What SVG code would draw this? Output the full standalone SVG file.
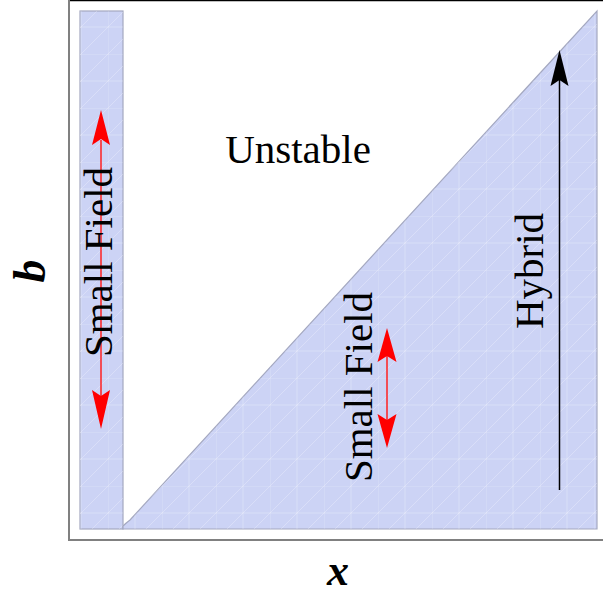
<svg xmlns="http://www.w3.org/2000/svg" width="603" height="594" viewBox="0 0 603 594">
<style>
.lbl{font-family:"Liberation Serif","Times New Roman",serif;font-size:41px;fill:#000}
.ax{font-family:"Liberation Serif","Times New Roman",serif;font-size:46px;font-weight:bold;font-style:italic;fill:#000}
.region{fill:#ccd3f5;stroke:#a4a8c0;stroke-width:1.2}
.red{stroke:#ff2020;stroke-width:1.5;fill:none}
.redhead{fill:#ff0000}
</style>
<defs>
<pattern id="tex" width="54" height="54" patternUnits="userSpaceOnUse">
<path d="M0 54 L54 0 M0 27 L27 0 M27 54 L54 27 M0 0 H54 M0 0 V54 M27 0 V54 M0 27 H54" stroke="#ffffff" stroke-opacity="0.25" stroke-width="1" fill="none"/>
</pattern>
</defs>
<g id="frame">
<rect x="0" y="0" width="603" height="594" fill="#ffffff"/>
<line x1="68" y1="0.5" x2="603" y2="0.5" stroke="#000" stroke-width="1.5"/>
<line x1="69" y1="0" x2="69" y2="541" stroke="#808080" stroke-width="2"/>
<line x1="68" y1="540" x2="603" y2="540" stroke="#808080" stroke-width="2"/>
</g>
<g id="regions">
<rect class="region" x="80" y="11" width="43" height="518"/>
<rect x="80" y="11" width="43" height="518" fill="url(#tex)"/>
<path class="region" d="M123 529 L123 526 Q126 523 130 520 L597 11 L597 529 Z"/>
<path d="M123 529 L123 526 Q126 523 130 520 L597 11 L597 529 Z" fill="url(#tex)"/>
</g>
<g id="connectors">
<line class="red" x1="101" y1="140" x2="101" y2="400"/>
<polygon class="redhead" points="101,110 92,145 101,139 110,145"/>
<polygon class="redhead" points="101,429 92,390 101,396 110,390"/>
<line class="red" x1="387" y1="355" x2="387" y2="420"/>
<polygon class="redhead" points="387,328 377.5,362 387,356 396.5,362"/>
<polygon class="redhead" points="387,448 377.5,414 387,420 396.5,414"/>
<line x1="559.5" y1="80" x2="559.5" y2="490" stroke="#000" stroke-width="1.5"/>
<polygon points="559.5,50 550.5,86 559.5,80 568.5,86" fill="#000"/>
</g>
<g id="unstable"><text class="lbl" x="298" y="163" text-anchor="middle">Unstable</text></g>
<g id="small-field-left"><text class="lbl" transform="translate(112,262) rotate(-90)" text-anchor="middle">Small Field</text></g>
<g id="small-field-mid"><text class="lbl" transform="translate(372,387) rotate(-90)" text-anchor="middle">Small Field</text></g>
<g id="hybrid"><text class="lbl" transform="translate(543,271) rotate(-90)" text-anchor="middle">Hybrid</text></g>
<g id="axis-b"><text class="ax" transform="translate(45,271) rotate(-90)" text-anchor="middle">b</text></g>
<g id="axis-x"><text class="ax" x="338" y="585" text-anchor="middle" style="font-size:44px">x</text></g>
</svg>
